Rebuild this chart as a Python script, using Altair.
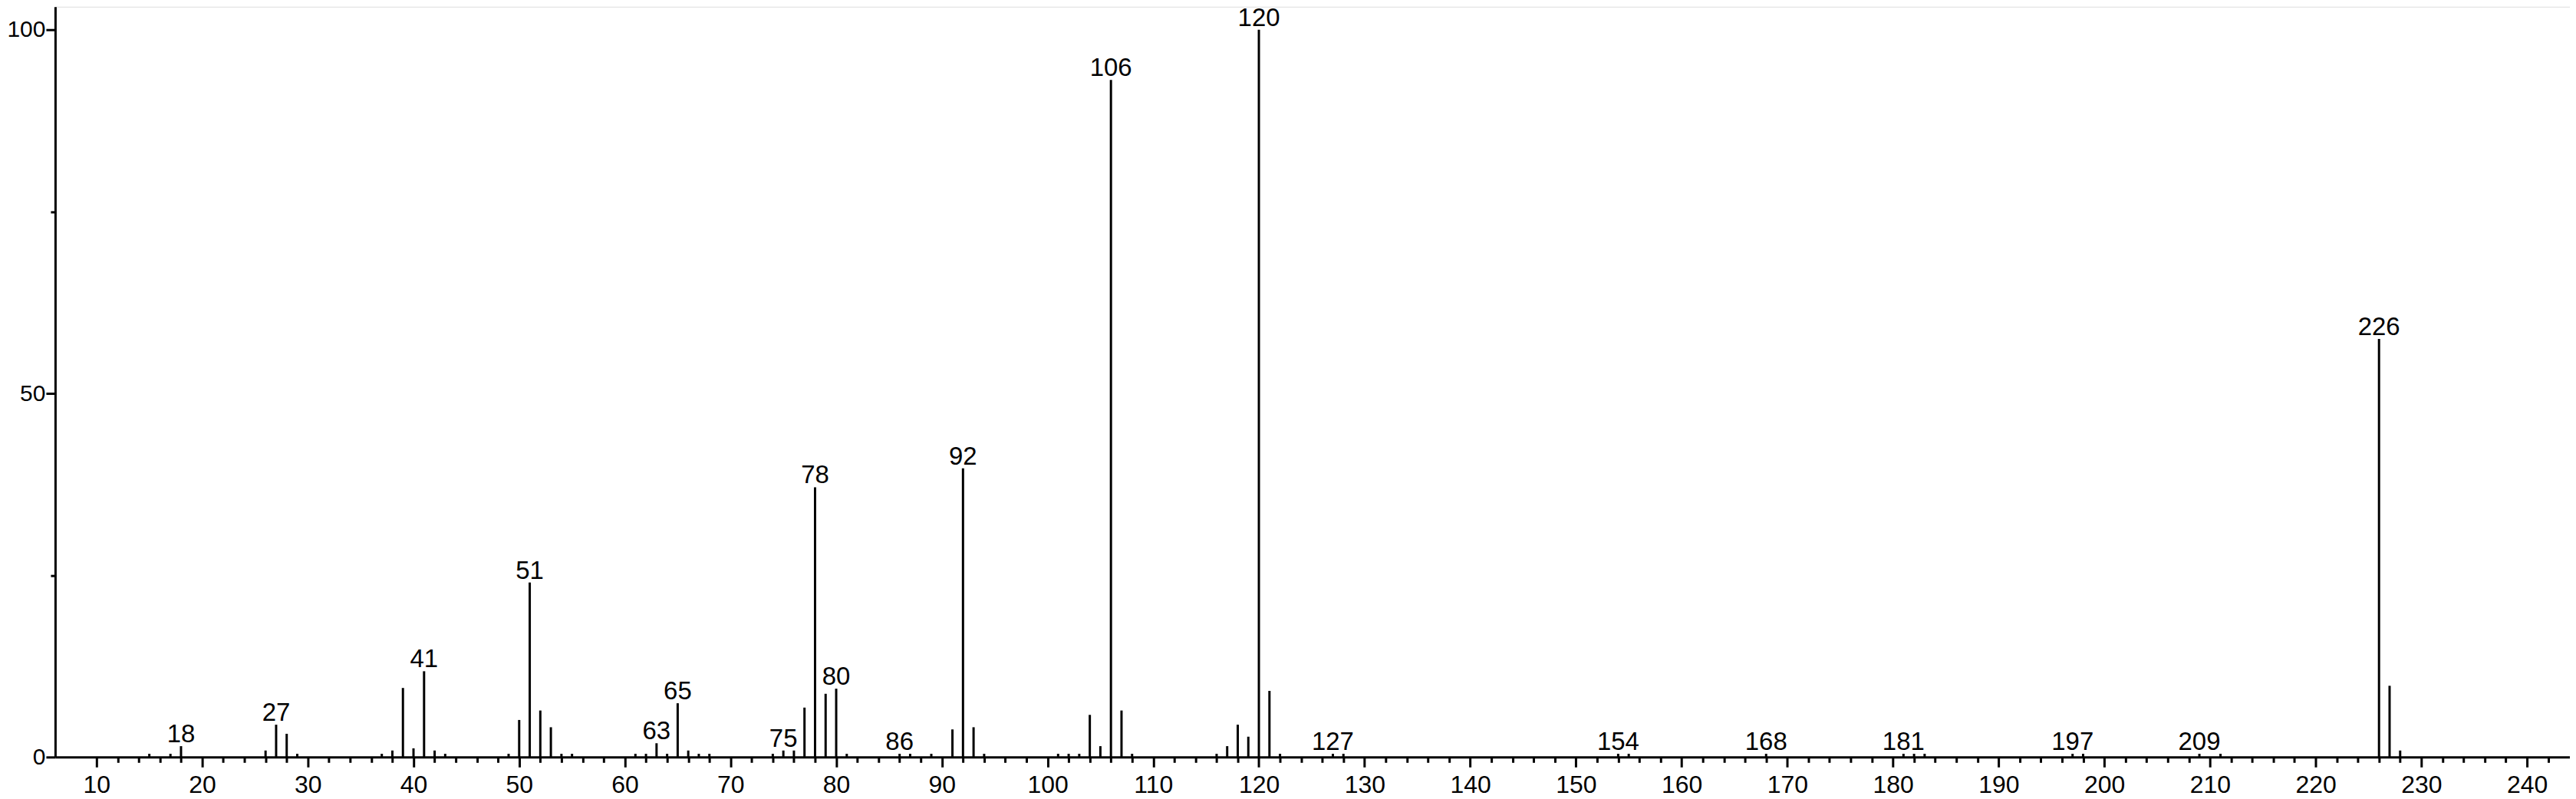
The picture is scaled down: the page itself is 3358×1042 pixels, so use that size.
import altair as alt
import pandas as pd

# m/z values and relative intensities
mz = [15, 17, 18, 26, 27, 28, 29, 37, 38, 39, 40, 41, 42, 43, 49, 50, 51, 52, 53, 54, 55,
      61, 62, 63, 64, 65, 66, 67, 68, 74, 75, 76, 77, 78, 79, 80, 81, 86, 87, 89, 91, 92,
      93, 94, 101, 102, 103, 104, 105, 106, 107, 108, 116, 117, 118, 119, 120, 121, 122,
      127, 128, 154, 155, 168, 181, 182, 183, 197, 198, 209, 211, 226, 227, 228]
intensity = [0.45, 0.45, 1.5, 0.9, 4.45, 3.2, 0.45, 0.45, 0.9, 9.5, 1.2, 11.8, 0.9, 0.45, 0.45, 5.1, 24.0, 6.4, 4.1, 0.45, 0.45,
             0.45, 0.45, 1.9, 0.45, 7.4, 0.9, 0.45, 0.45, 0.45, 0.9, 0.9, 6.8, 37.1, 8.7, 9.4, 0.45, 0.45, 0.45, 0.45, 3.8, 39.7,
             4.1, 0.45, 0.45, 0.45, 0.45, 5.8, 1.5, 93.1, 6.4, 0.45, 0.45, 1.5, 4.45, 2.8, 100.0, 9.1, 0.45,
             0.45, 0.45, 0.45, 0.45, 0.45, 0.45, 0.45, 0.45, 0.45, 0.45, 0.45, 0.45, 57.5, 9.8, 0.9]

# peaks annotated with their m/z
labelled = [18, 27, 41, 51, 63, 65, 75, 78, 80, 86, 92, 106, 120, 127, 154, 168, 181, 197, 209, 226]

# axis ticks
x_major = list(range(10, 241, 10))
x_minor = [v for v in range(12, 243, 2) if v % 10 != 0]
y_major = [0, 50, 100]
y_minor = [25, 75]

peaks = pd.DataFrame({"mz": mz, "intensity": intensity})
lookup = dict(zip(mz, intensity))
labels = pd.DataFrame({"mz": labelled,
                       "intensity": [lookup[m] for m in labelled],
                       "text": [str(m) for m in labelled]})

FONT = "Liberation Sans"
xscale = alt.Scale(domain=[6.09, 244.06], nice=False, zero=False)
yscale = alt.Scale(domain=[0, 103.16], nice=False)

rules = alt.Chart(peaks).mark_rule(color="black", strokeWidth=3).encode(
    x=alt.X("mz:Q", scale=xscale, title=None,
            axis=alt.Axis(values=x_major, orient="bottom", tickSize=13, tickWidth=3,
                          domainWidth=3, domainColor="black", tickColor="black",
                          labelFont=FONT, labelFontSize=32, labelColor="black",
                          labelPadding=8, grid=False, labelFlush=False, labelOverlap=False)),
    y=alt.Y("intensity:Q", scale=yscale, title=None,
            axis=alt.Axis(values=y_major, orient="left", tickSize=12, tickWidth=3,
                          domainWidth=3, domainColor="black", tickColor="black",
                          labelFont=FONT, labelFontSize=30, labelColor="black",
                          labelPadding=1, grid=False, labelFlush=False, labelOverlap=False)),
    y2=alt.datum(0),
)

text = alt.Chart(labels).mark_text(font=FONT, fontSize=33, color="black",
                                   baseline="alphabetic", align="center", dy=-5).encode(
    x=alt.X("mz:Q", scale=xscale, title=None,
            axis=alt.Axis(values=x_minor, orient="bottom", tickSize=7, tickWidth=3,
                          tickColor="black", domain=False, labels=False, grid=False)),
    y=alt.Y("intensity:Q", scale=yscale, title=None,
            axis=alt.Axis(values=y_minor, orient="left", tickSize=6, tickWidth=3,
                          tickColor="black", domain=False, labels=False, grid=False)),
    text="text:N",
)

chart = alt.layer(rules, text).resolve_axis(x="independent", y="independent").properties(
    width=3283, height=980,
    autosize=alt.AutoSizeParams(type="none"),
    padding={"left": 64, "top": 0, "right": 0, "bottom": 54},
).configure_view(stroke=None).configure(background="white")

chart.save("out.html", embed_options={"renderer": "svg", "actions": False})
